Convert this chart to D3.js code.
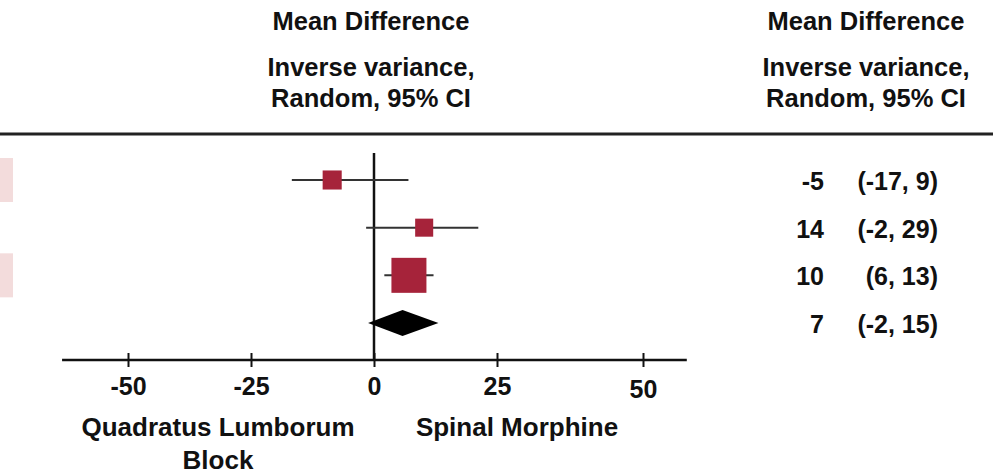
<!DOCTYPE html>
<html>
<head>
<meta charset="utf-8">
<script src="https://cdn.jsdelivr.net/npm/d3@7"></script>
<style>
  html, body { margin: 0; padding: 0; background: #fff; }
  svg { display: block; }
  text { font-family: "Liberation Sans", Arial, Helvetica, sans-serif; font-weight: bold; fill: #111; }
</style>
</head>
<body>
<svg id="chart" width="993" height="474"></svg>
<script>
// ---- data ----
const rows = ["Study 1", "Study 2", "Study 3", "Overall"];
const mdLabels = ["-5", "14", "10", "7"];
const ciLabels = ["(-17, 9)", "(-2, 29)", "(6, 13)", "(-2, 15)"];
const means = [-8.5, 10.2, 7.1, 5.8];
const lowers = [-16.7, -1.6, 2.1, -1.2];
const uppers = [7.0, 21.2, 12.1, 13.1];
const weights = [19, 17, 64];            // study weights (%), overall row is the diamond
const shadedRows = ["Study 1", "Study 3"];
const tickValues = [-50, -25, 0, 25, 50];
const tickLabels = ["-50", "-25", "0", "25", "50"];
const axisExtent = [-63.4, 57.5];
const headerLines = ["Mean Difference", "Inverse variance,", "Random, 95% CI"];
const leftFavours = ["Quadratus Lumborum", "Block"];
const rightFavours = ["Spinal Morphine"];

// ---- drawing ----
const svg = d3.select("#chart");

const x = d3.scaleLinear().domain([-50, 25, 50]).range([128, 497, 643]);
const y = d3.scaleLinear().domain([0, rows.length - 1]).range([180, 323]);
const size = d3.scaleSqrt().domain([0, d3.max(weights)]).range([0, 35]);
const red = "#a6233a";

// faint row shading (cropped at left edge)
svg.selectAll("rect.shade").data(shadedRows).join("rect")
  .attr("class", "shade")
  .attr("x", 0).attr("width", 13)
  .attr("y", d => y(rows.indexOf(d)) - 22)
  .attr("height", 44)
  .attr("fill", "#f3dcdc");

// headers
[{cx: 371}, {cx: 866}].forEach(h => {
  const g = svg.append("g");
  g.selectAll("text").data(headerLines).join("text")
    .attr("x", h.cx)
    .attr("y", (d, i) => [30, 76, 107][i])
    .attr("text-anchor", "middle")
    .attr("font-size", 25.5)
    .text(d => d);
});

// header rule
svg.append("line")
  .attr("x1", 0).attr("x2", 993)
  .attr("y1", 134).attr("y2", 134)
  .attr("stroke", "#222").attr("stroke-width", 3);

// zero line
svg.append("line")
  .attr("x1", x(0)).attr("x2", x(0))
  .attr("y1", 153).attr("y2", 360)
  .attr("stroke", "#111").attr("stroke-width", 2.5);

// axis
const axisY = 360;
const axis = d3.axisBottom(x).tickValues(tickValues)
  .tickFormat((d, i) => tickLabels[i]).tickSizeOuter(0);
const ag = svg.append("g").attr("transform", `translate(0,${axisY})`).call(axis);
ag.select(".domain").remove();
ag.insert("line", ":first-child")
  .attr("x1", x(axisExtent[0])).attr("x2", x(axisExtent[1]))
  .attr("y1", 0).attr("y2", 0)
  .attr("stroke", "#111").attr("stroke-width", 2.5);
ag.selectAll(".tick line").attr("y1", -7).attr("y2", 7)
  .attr("stroke", "#111").attr("stroke-width", 2);
ag.selectAll(".tick text")
  .attr("y", (d) => d === 50 ? 38 : 35).attr("dy", 0)
  .attr("font-size", 25)
  .attr("font-family", "Liberation Sans, Arial, sans-serif")
  .attr("font-weight", "bold")
  .attr("fill", "#111");

// study rows: CI lines + squares
const studies = rows.slice(0, weights.length);
svg.selectAll("line.ci").data(studies).join("line")
  .attr("class", "ci")
  .attr("x1", (d, i) => x(lowers[i])).attr("x2", (d, i) => x(uppers[i]))
  .attr("y1", (d, i) => y(i)).attr("y2", (d, i) => y(i))
  .attr("stroke", "#333").attr("stroke-width", 2);

svg.selectAll("rect.pt").data(studies).join("rect")
  .attr("class", "pt")
  .attr("x", (d, i) => x(means[i]) - size(weights[i]) / 2)
  .attr("y", (d, i) => y(i) - size(weights[i]) / 2)
  .attr("width", (d, i) => size(weights[i]))
  .attr("height", (d, i) => size(weights[i]))
  .attr("fill", red);

// overall diamond
const oi = rows.length - 1;
const dh = 13;
svg.append("path")
  .attr("d", `M${x(lowers[oi])},${y(oi)} L${x(means[oi])},${y(oi) - dh} L${x(uppers[oi])},${y(oi)} L${x(means[oi])},${y(oi) + dh} Z`)
  .attr("fill", "#000");

// right-hand value column
svg.selectAll("text.md").data(mdLabels).join("text")
  .attr("class", "md")
  .attr("x", 824).attr("y", (d, i) => y(i) + 10)
  .attr("text-anchor", "end").attr("font-size", 25)
  .text(d => d);
svg.selectAll("text.ci").data(ciLabels).join("text")
  .attr("class", "ci")
  .attr("x", 938).attr("y", (d, i) => y(i) + 10)
  .attr("text-anchor", "end").attr("font-size", 25)
  .text(d => d);

// favours labels
svg.selectAll("text.lf").data(leftFavours).join("text")
  .attr("class", "lf")
  .attr("x", 218).attr("y", (d, i) => 436 + i * 33)
  .attr("text-anchor", "middle").attr("font-size", 26)
  .text(d => d);
svg.selectAll("text.rf").data(rightFavours).join("text")
  .attr("class", "rf")
  .attr("x", 517).attr("y", 436)
  .attr("text-anchor", "middle").attr("font-size", 26)
  .text(d => d);
</script>
</body>
</html>
